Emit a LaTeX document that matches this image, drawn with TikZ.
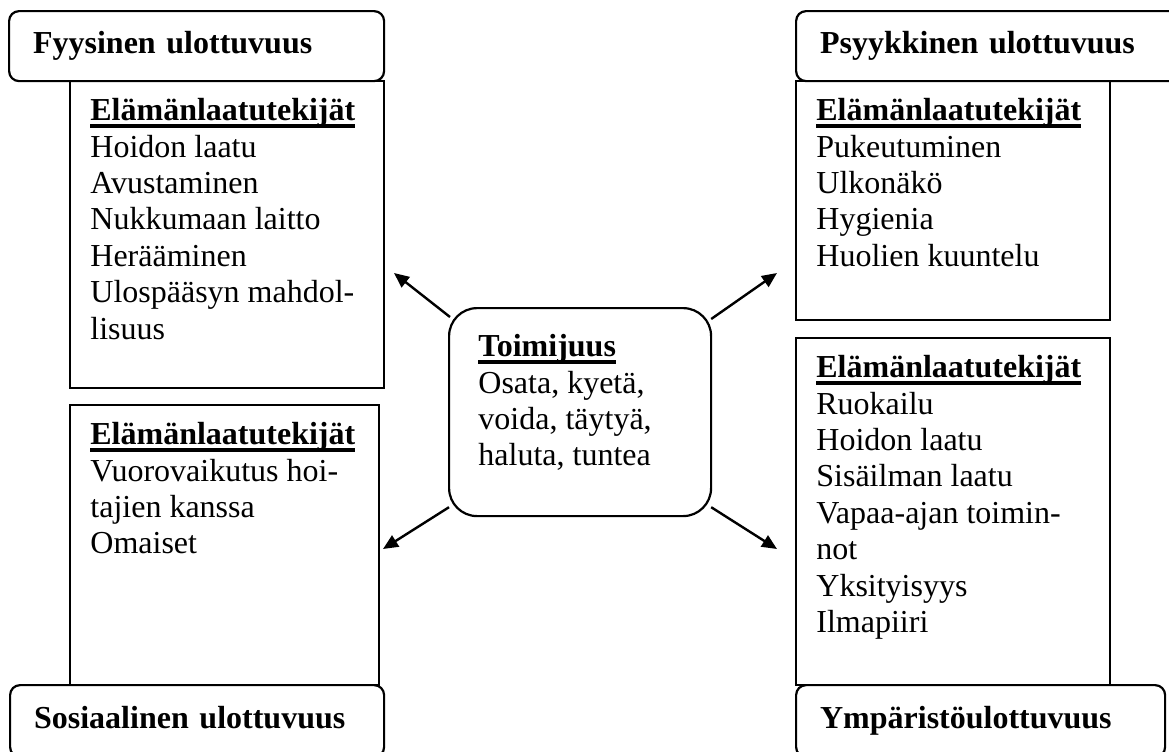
\documentclass[tikz,border=0pt]{standalone}
\usepackage{fontspec}
\setmainfont{Liberation Serif}
\usetikzlibrary{arrows.meta}
\newcommand{\ulhead}[1]{\setbox0\hbox{\bfseries #1}\rlap{\rule[-3.5pt]{\wd0}{1.8pt}}\box0}

\begin{document}
\begin{tikzpicture}[x=0.5pt, y=-0.5pt,
    every node/.style={font=\fontsize{16}{18.2}\selectfont},
    listbox/.style={draw, line width=1.1pt, inner sep=0pt, anchor=north west},
    headbox/.style={draw, fill=white, line width=1.1pt, rounded corners=5pt, inner xsep=12pt, inner ysep=0pt, text height=11pt, text depth=3.5pt, anchor=north west, align=left, font=\fontsize{16}{18.2}\selectfont\bfseries},
    itemtext/.style={inner sep=0pt, anchor=north west, align=left},
    pointer/.style={-{Triangle[length=7.5pt,width=6.5pt]}, line width=1.2pt}]
    \useasboundingbox (0,0) rectangle (1169,751);
    % factor boxes
    \node[listbox, minimum width=157pt, minimum height=153.5pt] (lfys) at (69,80) {};
    \node[listbox, minimum width=157pt, minimum height=119.5pt] (lpsy) at (795,80) {};
    \node[listbox, minimum width=154.5pt, minimum height=140pt] (lsos) at (69,404) {};
    \node[listbox, minimum width=157pt, minimum height=173.5pt] (lymp) at (795,337) {};
    % dimension headers
    \node[headbox, text width=163.5pt, minimum height=35pt] (hfys) at (8,10) {Fyysinen ulottuvuus};
    \node[headbox, text width=168.5pt, minimum height=35pt] (hpsy) at (795,10) {Psyykkinen ulottuvuus};
    \node[headbox, text width=163pt, minimum height=36pt] (hsos) at (9,684) {Sosiaalinen ulottuvuus};
    \node[headbox, text width=160.5pt, minimum height=36pt] (hymp) at (795,684) {Ympäristöulottuvuus};
    % factor lists
    \node[itemtext] (tfys) at ([shift={(21,18)}]lfys.north west) {\ulhead{Elämänlaatutekijät}\\ Hoidon laatu\\ Avustaminen\\ Nukkumaan laitto\\ Herääminen\\ Ulospääsyn mahdol-\\ lisuus};
    \node[itemtext] (tpsy) at ([shift={(21,18)}]lpsy.north west) {\ulhead{Elämänlaatutekijät}\\ Pukeutuminen\\ Ulkonäkö\\ Hygienia\\ Huolien kuuntelu};
    \node[itemtext] (tsos) at ([shift={(21,18)}]lsos.north west) {\ulhead{Elämänlaatutekijät}\\ Vuorovaikutus hoi-\\ tajien kanssa\\ Omaiset};
    \node[itemtext] (tymp) at ([shift={(21,18)}]lymp.north west) {\ulhead{Elämänlaatutekijät}\\ Ruokailu\\ Hoidon laatu\\ Sisäilman laatu\\ Vapaa-ajan toimin-\\ not\\ Yksityisyys\\ Ilmapiiri};
    % centre
    \node[listbox, rounded corners=14pt, minimum width=131pt, minimum height=104pt] (toim) at (448,307) {};
    \node[itemtext] (ttoim) at ([shift={(30,27)}]toim.north west) {\ulhead{Toimijuus}\\ Osata, kyetä,\\ voida, täytyä,\\ haluta, tuntea};
    % arrows
    \coordinate (pnw) at (394,273);
    \coordinate (pne) at (777,273);
    \coordinate (psw) at (383,549);
    \coordinate (pse) at (777,549);
    \draw[pointer] ([shift={(2,10)}]toim.north west) -- (pnw);
    \draw[pointer] ([shift={(-1,12)}]toim.north east) -- (pne);
    \draw[pointer] ([shift={(1,-10)}]toim.south west) -- (psw);
    \draw[pointer] ([shift={(-1,-10)}]toim.south east) -- (pse);
\end{tikzpicture}
\end{document}
